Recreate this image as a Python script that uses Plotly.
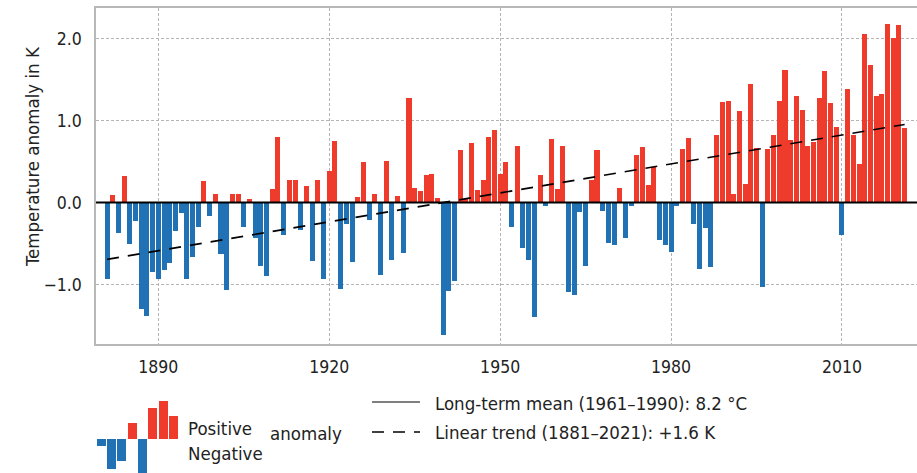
import numpy as np
import plotly.graph_objects as go

# Annual mean temperature anomaly, Germany, relative to 1961-1990 (K)
years = list(range(1881, 2022))
anomaly = [
    -0.93, 0.09, -0.37, 0.32, -0.51, -0.23, -1.30, -1.38, -0.85, -0.93,   # 1881-1890
    -0.82, -0.74, -0.34, -0.13, -0.93, -0.66, -0.30, 0.26, -0.16, 0.10,   # 1891-1900
    -0.63, -1.06, 0.10, 0.10, -0.30, 0.04, -0.43, -0.77, -0.89, 0.16,     # 1901-1910
    0.80, -0.39, 0.28, 0.27, -0.33, 0.20, -0.71, 0.28, -0.93, 0.38,       # 1911-1920
    0.75, -1.05, -0.26, -0.72, 0.07, 0.49, -0.21, 0.10, -0.88, 0.51,      # 1921-1930
    -0.70, 0.08, -0.62, 1.28, 0.18, 0.14, 0.34, 0.35, 0.06, -1.61,        # 1931-1940
    -1.08, -0.96, 0.64, 0.05, 0.73, 0.15, 0.27, 0.80, 0.89, 0.35,         # 1941-1950
    0.49, -0.30, 0.69, -0.55, -0.70, -1.40, 0.34, -0.04, 0.78, 0.17,      # 1951-1960
    0.69, -1.09, -1.13, -0.11, -0.77, 0.27, 0.64, -0.10, -0.49, -0.52,    # 1961-1970
    0.18, -0.43, -0.04, 0.58, 0.68, 0.22, 0.43, -0.45, -0.52, -0.60,      # 1971-1980
    -0.04, 0.65, 0.79, -0.26, -0.81, -0.31, -0.79, 0.82, 1.23, 1.24,      # 1981-1990
    0.11, 1.12, 0.23, 1.45, 0.66, -1.03, 0.65, 0.82, 1.24, 1.62,          # 1991-2000
    0.76, 1.30, 1.13, 0.69, 0.74, 1.28, 1.60, 1.22, 0.92, -0.40,          # 2001-2010
    1.38, 0.83, 0.47, 2.06, 1.68, 1.30, 1.32, 2.18, 2.01, 2.16,           # 2011-2020
    0.91,                                                                 # 2021
]

x_ticks = [1890, 1920, 1950, 1980, 2010]
y_ticks = [-1.0, 0.0, 1.0, 2.0]
y_tick_labels = ["\u22121.0", "0.0", "1.0", "2.0"]

# small sample bars used as the colour key
key_bars = [-7, -30.3, -22, 15.7, -36, 30.7, 37.7, 22.7]

long_term_mean = 0.0

RED = "#EF3B2C"
BLUE = "#2171B5"
GRID = "#b4b4b4"
SPINE = "#b8b8b8"
TEXT = "#222222"
FONT = "DejaVu Sans Condensed, DejaVu Sans, sans-serif"

colors = [RED if v > 0 else BLUE for v in anomaly]

# linear trend over the whole record
coef = np.polyfit(years, anomaly, 1)
trend_x = [years[0], years[-1]]
trend_y = [float(np.polyval(coef, yr)) for yr in trend_x]

fig = go.Figure()

fig.add_trace(go.Bar(
    x=years, y=anomaly, width=0.88,
    marker=dict(color=colors, line=dict(width=0)),
    showlegend=False, hoverinfo="x+y",
))

fig.add_trace(go.Scatter(
    x=trend_x, y=trend_y, mode="lines",
    line=dict(color="black", width=1.6, dash="12px,9px"),
    showlegend=False, hoverinfo="skip",
))

# colour key bars
fig.add_trace(go.Bar(
    x=list(range(len(key_bars))), y=key_bars, width=0.87,
    marker=dict(color=[RED if v > 0 else BLUE for v in key_bars], line=dict(width=0)),
    xaxis="x2", yaxis="y2", showlegend=False, hoverinfo="skip",
))

W, H = 917, 473
ML, MT = 96, 8
PW, PH = W - ML, H - MT


def px(xp):
    return (xp - ML) / PW


def py(yp):
    return (H - yp) / PH


main_bottom = py(344)

fig.update_layout(
    width=W, height=H,
    margin=dict(l=ML, r=0, t=MT, b=0),
    paper_bgcolor="white", plot_bgcolor="white",
    bargap=0,
    font=dict(family=FONT, size=17.5, color=TEXT),
    xaxis=dict(
        range=[1879.06, 2023.17], domain=[0, 1],
        tickvals=x_ticks, ticks="", ticklabelstandoff=6,
        showgrid=True, gridcolor=GRID, gridwidth=1, griddash="3px,2px",
        showline=True, linecolor=SPINE, linewidth=1.5, mirror=True,
        zeroline=False, tickfont=dict(size=17.5, color=TEXT),
    ),
    yaxis=dict(
        range=[-1.724, 2.373], domain=[main_bottom, 1],
        tickvals=y_ticks, ticktext=y_tick_labels, ticks="", ticklabelstandoff=9,
        showgrid=True, gridcolor=GRID, gridwidth=1, griddash="3px,2px",
        showline=True, linecolor=SPINE, linewidth=1.5,
        zeroline=False, tickfont=dict(size=17.5, color=TEXT),
    ),
    xaxis2=dict(domain=[0, px(178.5)], range=[-0.5, len(key_bars) - 0.5],
                anchor="y2", visible=False, fixedrange=True),
    yaxis2=dict(domain=[0, py(400)], range=[-34.3, 38.7],
                anchor="x2", visible=False, fixedrange=True),
)

# long-term mean line
fig.add_shape(type="line", xref="paper", yref="y", x0=0, x1=1,
              y0=long_term_mean, y1=long_term_mean,
              line=dict(color="black", width=2), layer="above")

# key lines
fig.add_shape(type="line", xref="paper", yref="paper",
              x0=px(372), x1=px(420), y0=py(402), y1=py(402),
              line=dict(color="black", width=1.2))
fig.add_shape(type="line", xref="paper", yref="paper",
              x0=px(372), x1=px(420), y0=py(432), y1=py(432),
              line=dict(color="black", width=1.6, dash="12px,9px"))

def label(text, x, y, size=18.5, angle=0, xanchor="left"):
    fig.add_annotation(text=text, xref="paper", yref="paper", x=x, y=y,
                       xanchor=xanchor, yanchor="middle", showarrow=False,
                       textangle=angle, font=dict(family=FONT, size=size, color=TEXT))

label("Temperature anomaly in K", px(32), py(157), angle=-90, xanchor="center")
label("Positive", px(186), py(428.5))
label("Negative", px(186), py(453.5))
label("anomaly", px(268), py(433.5))
label("Long-term mean (1961\u20131990): 8.2 \u00b0C", px(433), py(403))
label("Linear trend (1881\u20132021): +1.6 K", px(433), py(432))

fig.write_html("out.html")
